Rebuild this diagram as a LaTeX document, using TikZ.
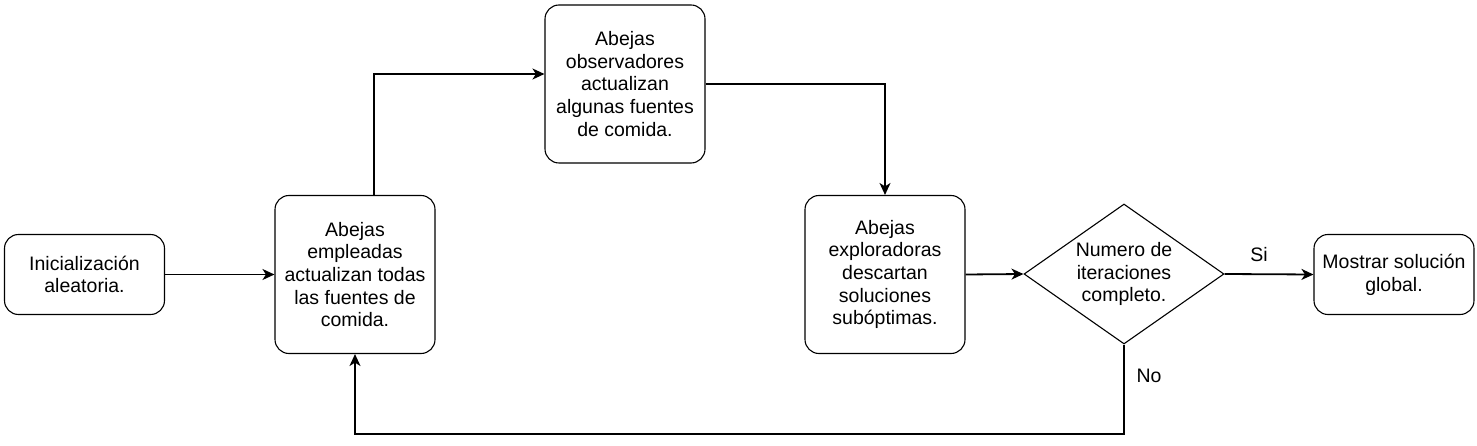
\documentclass[tikz,border=0pt]{standalone}
\usepackage{fontspec}
\setmainfont{Liberation Sans}
\usepackage{tikz}
\usetikzlibrary{arrows.meta}
\usetikzlibrary{shapes.geometric}

\begin{document}
\begin{tikzpicture}[x=1pt,y=-1pt,
  caja/.style={draw, line width=1.1pt, rounded corners=14pt, minimum width=160pt, inner sep=0pt, align=center, font=\fontsize{19.5}{22.7}\selectfont},
  decision/.style={draw, diamond, line width=1.1pt, minimum width=200pt, minimum height=140pt, inner sep=0pt},
  flecha/.style={line width=1.8pt,-{Stealth[length=12pt,width=11pt,inset=3.5pt]}},
  etiqueta/.style={align=center, font=\fontsize{19.5}{22.7}\selectfont}]
\useasboundingbox (0,0) rectangle (1477,446);
\node [caja, minimum height=80pt] (ini) at (84.5,274.5) {Inicialización\\aleatoria.};
\node [caja, minimum height=158pt] (emp) at (355,274.5) {Abejas\\empleadas\\actualizan todas\\las fuentes de\\comida.};
\node [caja, minimum height=158pt] (obs) at (625,84) {Abejas\\observadores\\actualizan\\algunas fuentes\\de comida.};
\node [caja, minimum height=158pt] (exp) at (885,274.5) {Abejas\\exploradoras\\descartan\\soluciones\\subóptimas.};
\node [decision] (dec) at (1124,274) {};
\node [etiqueta] (pregunta) at (dec) {Numero de\\iteraciones\\completo.};
\node [caja, minimum height=80pt] (fin) at (1394,274.5) {Mostrar solución\\global.};
\coordinate (abajo) at (1124,434);
\draw [flecha] (ini.east) -- (emp.west);
\draw [flecha] ([xshift=19pt]emp.north) |- ([yshift=10pt]obs.west);
\draw [flecha] (obs.east) -| (exp.north);
\draw [flecha] (exp.east) -- (dec.west);
\draw [flecha] (dec.east) -- (fin.west) node [etiqueta] at (1259,255) (si) {Si};
\draw [flecha] (dec.south) -- (abajo) -| (emp.south);
\node [etiqueta] (no) at (1149,376) {No};
\end{tikzpicture}
\end{document}
